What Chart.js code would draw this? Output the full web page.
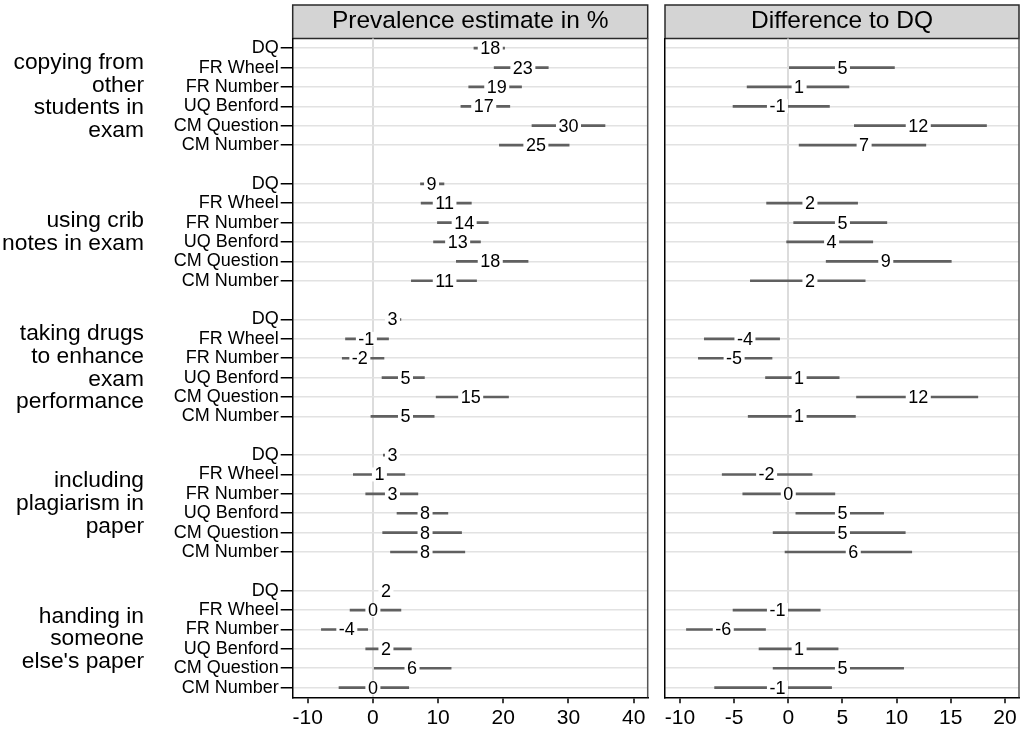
<!DOCTYPE html>
<html>
<head>
<meta charset="utf-8">
<script src="https://cdn.jsdelivr.net/npm/chart.js@4.4.1/dist/chart.umd.min.js"></script>
<style>
  body { margin: 0; background: #fff; }
  #wrap { position: relative; width: 1022px; height: 738px; }
  canvas { position: absolute; top: 0; }
  #left { left: 0; }
  #right { left: 655px; }
</style>
</head>
<body>
<div id="wrap">
  <canvas id="left" width="655" height="738"></canvas>
  <canvas id="right" width="367" height="738"></canvas>
</div>
<script>
const FONT = "'Liberation Sans', Arial, Helvetica, sans-serif";

const methods = ['DQ', 'FR Wheel', 'FR Number', 'UQ Benford', 'CM Question', 'CM Number'];
const groupLabels = [
  ['copying from', 'other', 'students in', 'exam'],
  ['using crib', 'notes in exam'],
  ['taking drugs', 'to enhance', 'exam', 'performance'],
  ['including', 'plagiarism in', 'paper'],
  ['handing in', 'someone', "else's paper"]
];

// prevalence estimate in % (6 methods per group, groups in order)
const prevEst = [18, 23, 19, 17, 30, 25,   9, 11, 14, 13, 18, 11,   3, -1, -2, 5, 15, 5,
                 3, 1, 3, 8, 8, 8,   2, 0, -4, 2, 6, 0];
const prevLo = [15.5, 18.6, 14.7, 13.5, 24.4, 19.4,   7.3, 7.4, 9.9, 9.3, 12.8, 5.9,
                2.1, -4.2, -4.7, 1.4, 9.7, -0.3,   1.6, -3.0, -1.1, 3.7, 1.5, 2.7,
                1.0, -3.5, -7.9, -1.1, 0.2, -5.2];
const prevHi = [20.2, 26.9, 22.8, 21.0, 35.6, 30.1,   10.9, 15.1, 17.7, 16.5, 23.8, 15.9,
                4.3, 2.4, 1.7, 7.9, 20.8, 9.4,   4.0, 4.9, 6.9, 11.5, 13.6, 14.1,
                3.0, 4.3, -0.8, 5.9, 12.0, 5.5];

// difference to DQ (DQ row itself is empty)
const diffEst = [null, 5, 1, -1, 12, 7,   null, 2, 5, 4, 9, 2,   null, -4, -5, 1, 12, 1,
                 null, -2, 0, 5, 5, 6,   null, -1, -6, 1, 5, -1];
const diffLo = [null, 0.1, -3.8, -5.1, 6.1, 1.0,   null, -2.0, 0.5, -0.15, 3.5, -3.5,
                null, -7.75, -8.3, -2.1, 6.3, -3.7,   null, -6.1, -4.2, 0.7, -1.4, -0.3,
                null, -5.1, -9.4, -2.7, -1.4, -6.8];
const diffHi = [null, 9.8, 5.6, 3.8, 18.3, 12.7,   null, 6.4, 9.1, 7.8, 15.05, 7.1,
                null, -0.8, -1.5, 4.7, 17.5, 6.2,   null, 2.2, 4.3, 8.8, 10.8, 11.4,
                null, 2.95, -2.1, 4.6, 10.65, 4.0];

const prevTicks = [-10, 0, 10, 20, 30, 40];
const diffTicks = [-10, -5, 0, 5, 10, 15, 20];

// y rows: 6 methods per group with a blank row between groups
const rowLabels = [];
const rowIndex = [];
const groupRowLabels = [];
groupLabels.forEach((g, gi) => {
  if (gi > 0) { rowLabels.push(''); groupRowLabels.push(''); }
  methods.forEach((m, mi) => {
    rowIndex.push(rowLabels.length);
    rowLabels.push(m);
    // group name sits on the 3rd row, shifted half a row down (labelOffset)
    groupRowLabels.push(mi === 2 ? g : '');
  });
});

function toRows(lo, hi) {
  const out = rowLabels.map(() => null);
  lo.forEach((v, i) => { if (v !== null) out[rowIndex[i]] = [v, hi[i]]; });
  return out;
}

Chart.defaults.font.family = FONT;
Chart.defaults.color = '#000';

// value label with white box on top of each interval
const estLabels = {
  id: 'estLabels',
  afterDatasetsDraw(chart, args, opts) {
    const ctx = chart.ctx, x = chart.scales.x, y = chart.scales.y;
    ctx.save();
    ctx.font = '18px ' + FONT;
    ctx.textAlign = 'center';
    ctx.textBaseline = 'middle';
    opts.est.forEach((v, i) => {
      if (v === null) return;
      const px = x.getPixelForValue(v);
      const py = y.getPixelForValue(rowIndex[i]);
      const txt = String(v);
      const w = ctx.measureText(txt).width + 5;
      ctx.fillStyle = '#fff';
      ctx.fillRect(px - w / 2, py - 7, w, 14);
      ctx.fillStyle = '#000';
      ctx.fillText(txt, px, py + 1);
    });
    ctx.restore();
  }
};

// grey header strip + right edge of the panel
const panelBox = {
  id: 'panelBox',
  beforeDraw(chart) {
    const a = chart.chartArea, t = chart.titleBlock, ctx = chart.ctx;
    ctx.save();
    ctx.fillStyle = '#d4d4d4';
    ctx.fillRect(a.left, t.top, a.right - a.left, a.top - t.top);
    ctx.strokeStyle = '#2a2a2a';
    ctx.lineWidth = 1.5;
    ctx.strokeRect(a.left, t.top, a.right - a.left, a.top - t.top);
    ctx.restore();
  },
  afterDraw(chart) {
    const a = chart.chartArea, ctx = chart.ctx;
    ctx.save();
    ctx.strokeStyle = '#555';
    ctx.lineWidth = 1.5;
    ctx.beginPath();
    ctx.moveTo(a.right, a.top);
    ctx.lineTo(a.right, a.bottom);
    ctx.stroke();
    ctx.restore();
  }
};

function makePanel(id, title, est, lo, hi, xMin, xMax, ticks, withLabels, pad) {
  const scales = {
    x: {
      type: 'linear',
      min: xMin,
      max: xMax,
      afterBuildTicks: ax => { ax.ticks = ticks.map(v => ({ value: v })); },
      grid: {
        color: c => (c.tick && c.tick.value === 0) ? '#dcdcdc' : 'rgba(0,0,0,0)',
        lineWidth: 2,
        tickColor: '#000',
        tickLength: 6,
        tickWidth: 1.5
      },
      border: { color: '#000', width: 1.5 },
      ticks: { font: { size: 21 }, color: '#000', padding: 2, maxRotation: 0 }
    },
    y: {
      type: 'category',
      labels: rowLabels,
      offset: true,
      grid: {
        offset: false,
        color: c => rowLabels[c.index] === '' ? 'rgba(0,0,0,0)' : '#e2e2e2',
        lineWidth: 1.5,
        tickColor: c => rowLabels[c.index] === '' ? 'rgba(0,0,0,0)' : '#000',
        tickLength: 12,
        tickWidth: 1.5,
        drawTicks: withLabels
      },
      border: { color: '#000', width: 1.5 },
      ticks: { display: withLabels, autoSkip: false, font: { size: 18 }, color: '#000', padding: 2 },
      afterFit: ax => { ax.width = withLabels ? 142.7 : 0; }
    }
  };
  if (withLabels) {
    scales.g = {
      type: 'category',
      axis: 'y',
      position: 'left',
      weight: 1,
      labels: groupRowLabels,
      offset: true,
      grid: { display: false, drawTicks: false },
      border: { display: false },
      ticks: {
        autoSkip: false,
        font: { size: 22.8, lineHeight: 1.0 },
        color: '#000',
        padding: 6,
        labelOffset: 9.72
      },
      afterFit: ax => { ax.width = 150; }
    };
  }

  return new Chart(document.getElementById(id), {
    type: 'bar',
    data: {
      labels: rowLabels,
      datasets: [{
        data: toRows(lo, hi),
        backgroundColor: '#606060',
        barThickness: 2
      }]
    },
    options: {
      indexAxis: 'y',
      responsive: false,
      animation: false,
      devicePixelRatio: 1,
      layout: { padding: pad },
      scales: scales,
      plugins: {
        legend: { display: false },
        tooltip: { enabled: false },
        title: {
          display: true,
          text: title,
          fullSize: false,
          color: '#000',
          font: { size: 24.5, weight: 'normal', lineHeight: 1.2 },
          padding: { top: 2, bottom: 2.1 }
        },
        estLabels: { est: est }
      }
    },
    plugins: [panelBox, estLabels]
  });
}

makePanel('left', 'Prevalence estimate in %', prevEst, prevLo, prevHi, -12.3, 42.15, prevTicks, true,
  { top: 5, left: 0, right: 7.3, bottom: 5.5 });
makePanel('right', 'Difference to DQ', diffEst, diffLo, diffHi, -11.38, 21.3, diffTicks, false,
  { top: 5, left: 10, right: 3, bottom: 5.5 });
</script>
</body>
</html>
